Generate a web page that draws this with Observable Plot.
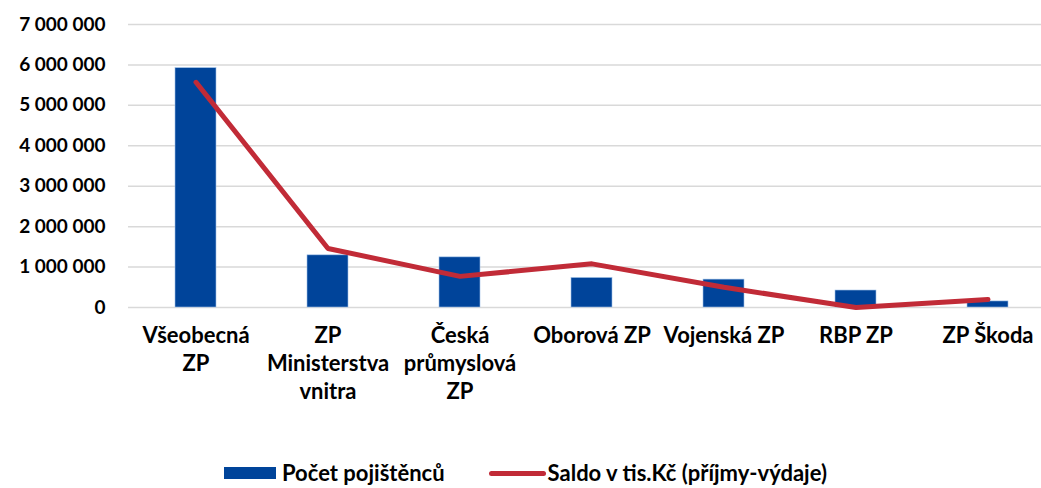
<!DOCTYPE html>
<html>
<head>
<meta charset="utf-8">
<script src="https://cdn.jsdelivr.net/npm/d3@7"></script>
<script src="https://cdn.jsdelivr.net/npm/@observablehq/plot@0.6"></script>
<style>
  html, body { margin: 0; padding: 0; background: #fff; }
  body { width: 1041px; height: 488px; overflow: hidden; font-family: Lato, "Open Sans", sans-serif; position: relative; }
  #legend { position: absolute; left: 0; top: 461px; width: 1041px; display: flex; justify-content: center; align-items: center; font-weight: bold; font-size: 22px; color: #000; padding-left: 10px; box-sizing: border-box; line-height: 24px; }
  .item { display: flex; align-items: center; }
  .item + .item { margin-left: 44px; }
  .sw-bar { width: 52px; height: 12px; background: #00449a; margin-right: 6px; }
  .sw-line { width: 57px; height: 5px; border-radius: 3px; background: #c12b37; margin-right: 2px; }
</style>
</head>
<body>
<div id="chart"></div>
<div id="legend">
  <div class="item"><div class="sw-bar"></div><span>Počet pojištěnců</span></div>
  <div class="item"><div class="sw-line"></div><span>Saldo v tis.Kč (příjmy-výdaje)</span></div>
</div>
<script>
const categories = ["Všeobecná ZP", "ZP Ministerstva vnitra", "Česká průmyslová ZP", "Oborová ZP", "Vojenská ZP", "RBP ZP", "ZP Škoda"];
const tickLabels = ["Všeobecná\nZP", "ZP\nMinisterstva\nvnitra", "Česká\nprůmyslová\nZP", "Oborová ZP", "Vojenská ZP", "RBP ZP", "ZP Škoda"];
const insured = [5920000, 1290000, 1240000, 730000, 690000, 420000, 150000];
const saldo = [5570000, 1460000, 770000, 1080000, 500000, 0, 200000];
const yTicks = [0, 1000000, 2000000, 3000000, 4000000, 5000000, 6000000, 7000000];
const seriesNames = ["Počet pojištěnců", "Saldo v tis.Kč (příjmy-výdaje)"];

const rows = categories.map((c, i) => ({cat: c, label: tickLabels[i], insured: insured[i], saldo: saldo[i]}));
const labelOf = new Map(categories.map((c, i) => [c, tickLabels[i]]));
const fmt = v => d3.format(",")(v).replace(/,/g, " ");

const chart = Plot.plot({
  width: 1041,
  height: 440,
  marginLeft: 128,
  marginRight: -14,
  marginTop: 24,
  marginBottom: 133,
  style: {fontFamily: "Lato, 'Open Sans', sans-serif", fontSize: "19px", fontWeight: "bold", color: "#000", background: "#fff"},
  x: {domain: categories, paddingInner: 0.69, paddingOuter: 0.345, label: null},
  y: {domain: [0, 7000000], label: null},
  marks: [
    Plot.gridY(yTicks, {stroke: "#d9d9d9", strokeOpacity: 1, strokeWidth: 1.5}),
    Plot.axisY(yTicks, {tickSize: 0, tickPadding: 23, tickFormat: fmt, label: null, fontSize: 19, fontWeight: "bold"}),
    Plot.axisX({tickSize: 0, tickPadding: 15, tickFormat: d => labelOf.get(d), label: null, lineHeight: 1.28, fontSize: 22, fontWeight: "bold"}),
    Plot.barY(rows, {x: "cat", y: "insured", fill: "#00449a", stroke: "#9ec0e6", strokeWidth: 0.6}),
    Plot.line(rows, {x: "cat", y: "saldo", stroke: "#c12b37", strokeWidth: 5, strokeLinecap: "round", strokeLinejoin: "round"})
  ]
});
document.getElementById("chart").appendChild(chart);
</script>
</body>
</html>
